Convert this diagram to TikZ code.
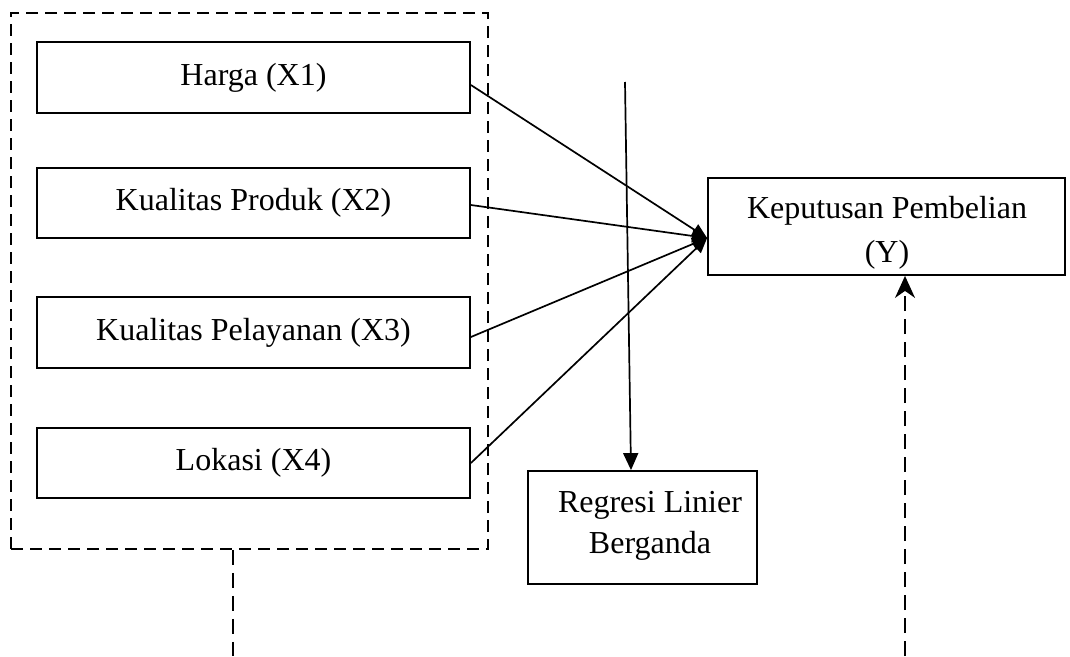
\documentclass[tikz,border=0pt]{standalone}
\usepackage{fontspec}
\setmainfont{Liberation Serif}
\usetikzlibrary{arrows.meta}
\begin{document}
\begin{tikzpicture}[x=1pt,y=-1pt,
  box/.style={draw, line width=1.8pt, inner sep=0pt, minimum width=433pt, minimum height=71pt, font=\fontsize{32}{44}\selectfont},
  frame/.style={draw, line width=1.8pt, dash pattern=on 12pt off 7pt},
  conn/.style={line width=1.7pt, -{Triangle[length=15pt,width=13pt]}},
  dline/.style={line width=1.8pt, dash pattern=on 15pt off 8pt},
  txt/.style={align=center, inner sep=0pt, anchor=base}]
\useasboundingbox (0,0) rectangle (1070,656);
\node[frame, minimum width=477pt, minimum height=536pt, inner sep=0pt] (outer) at (249.5,281) {};
\node[box] (x1) at (253.5,77.5) {Harga (X1)};
\node[box, minimum height=70pt] (x2) at (253.5,203) {Kualitas Produk (X2)};
\node[box] (x3) at (253.5,332.5) {Kualitas Pelayanan (X3)};
\node[box, minimum height=70pt] (x4) at (253.5,463) {Lokasi (X4)};
\node[box, minimum width=357pt, minimum height=97pt] (y) at (886.5,226.5) {};
\node[txt, font=\fontsize{32}{44}\selectfont] (ytxt) at (887,262) {Keputusan Pembelian\\(Y)};
\node[box, minimum width=229pt, minimum height=113pt] (reg) at (642.5,527.5) {};
\node[txt, font=\fontsize{32}{41}\selectfont] (regtxt) at (650,553) {Regresi Linier\\Berganda};
\coordinate (top) at (625,82);
\coordinate (bl) at (233,656);
\coordinate (br) at (905,656);
\draw[conn] ([yshift=-7.5pt]x1.east) -- ([yshift=-11.5pt]y.west);
\draw[conn] ([yshift=-2pt]x2.east) -- ([yshift=-11.5pt]y.west);
\draw[conn] ([yshift=-4.5pt]x3.east) -- ([yshift=-11.5pt]y.west);
\draw[conn] (x4.east) -- ([yshift=-11.5pt]y.west);
\draw[conn, -{Triangle[length=17pt,width=15pt]}] (top) -- ([xshift=-11.5pt]reg.north);
\draw[dline] (outer.south -| bl) -- (bl);
\draw[dline, -{Stealth[length=22pt,width=20pt,inset=7pt]}] (br) -- (y.south -| br);
\end{tikzpicture}
\end{document}
